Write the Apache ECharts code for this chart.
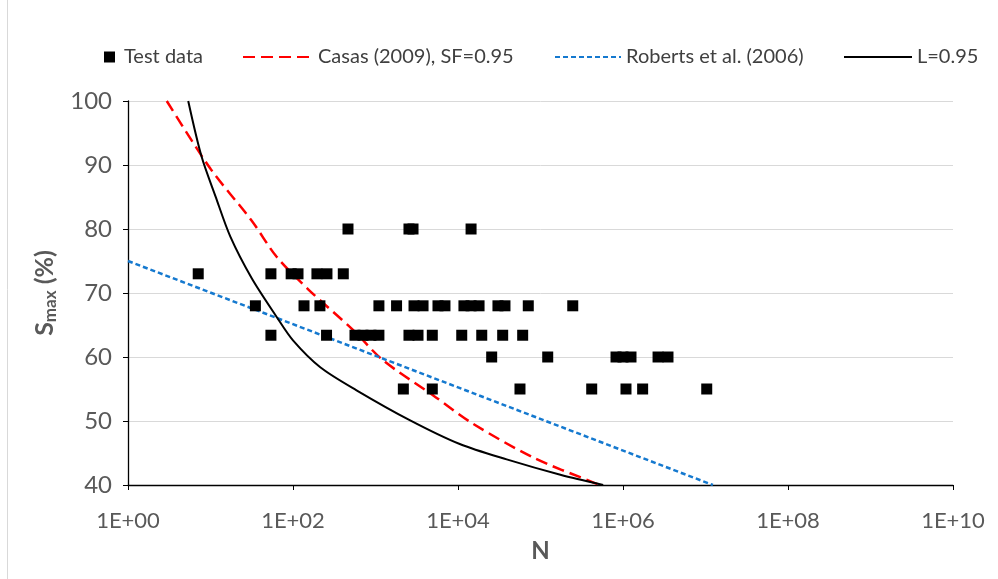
<!DOCTYPE html>
<html>
<head>
<meta charset="utf-8">
<script src="https://cdn.jsdelivr.net/npm/echarts@6/dist/echarts.min.js"></script>
<style>html,body{margin:0;padding:0;background:#fff}#c{width:998px;height:579px}</style>
</head>
<body>
<div id="c"></div>
<script>
// ---- data ----
const xTickLabels = ['1E+00','1E+02','1E+04','1E+06','1E+08','1E+10'];
const yTicks = [40,50,60,70,80,90,100];

const testN_80 = [464, 2545, 2850, 14400];
const testN_73 = [7.1, 54, 95, 115, 195, 258, 407];
const testN_68 = [35, 136, 212, 1100, 1800, 2930, 3770, 5720, 6950, 11800, 14400, 18000, 30500, 37100, 71100, 246000];
const testN_63 = [54, 255, 564, 705, 881, 1100, 2545, 3275, 4880, 11100, 19400, 34800, 60800];
const testN_60 = [25600, 122300, 823000, 1000000, 1250000, 2660000, 3510000];
const testN_55 = [2175, 4880, 56400, 417500, 1087000, 1730000, 10350000];
const testLevels = [80, 73, 68, 63.4, 60, 55];

const casasN = [2.95, 10, 31.6, 63, 155, 537, 1230, 5010, 15100, 81300, 398000, 525000];
const casasS = [100, 89.4, 81.3, 75.7, 70.5, 64.2, 59.5, 54, 49.6, 44.3, 40.6, 40];

const robertsN = [1, 12300000];
const robertsS = [75, 40];

const lN = [5.37, 7.76, 11.5, 17.4, 31.6, 63.1, 100, 214, 589, 2630, 10500, 38900, 174000, 575000];
const lS = [100, 91.4, 85.1, 78.8, 72.3, 66.3, 62.6, 58.4, 54.8, 50.1, 46.4, 44, 41.6, 40];

// ---- build ----
const testGroups = [testN_80, testN_73, testN_68, testN_63, testN_60, testN_55];
const testData = [];
testGroups.forEach((g, i) => g.forEach(n => testData.push([n, testLevels[i]])));
const zip = (a, b) => a.map((v, i) => [v, b[i]]);

const FONT = 'Lato';
const TXT = '#595959';
const LEG = '#404040';
const chart = echarts.init(document.getElementById('c'), null, {renderer: 'canvas'});

const legendBase = {
  orient: 'horizontal', top: 42, itemHeight: 14,
  textStyle: {fontFamily: FONT, fontSize: 20, color: LEG},
  itemStyle: {opacity: 0},
  selectedMode: false
};

chart.setOption({
  animation: false,
  backgroundColor: '#fff',
  textStyle: {fontFamily: FONT},
  grid: {left: 128, right: 45, top: 101, bottom: 94, containLabel: false},
  legend: [
    {orient: 'horizontal', top: 42, selectedMode: false,
      data: [{name: 'Test data', icon: 'rect'}], left: 99, itemWidth: 11, itemHeight: 11,
      itemStyle: {color: '#000'},
      textStyle: {fontFamily: FONT, fontSize: 20, color: LEG, padding: [0, 0, 0, 4]}},
    Object.assign({}, legendBase, {data: ['Casas (2009), SF=0.95'], left: 237, itemWidth: 70}),
    Object.assign({}, legendBase, {data: ['Roberts et al. (2006)'], left: 549, itemWidth: 66}),
    Object.assign({}, legendBase, {data: ['L=0.95'], left: 838, itemWidth: 68})
  ],
  xAxis: {
    type: 'log', logBase: 10, min: 1, max: 1e10, interval: 2,
    name: 'N', nameLocation: 'middle', nameGap: 54,
    nameTextStyle: {fontFamily: FONT, fontSize: 24, fontWeight: 'bold', color: TXT},
    axisLine: {show: true, onZero: false, lineStyle: {color: '#000', width: 1.3}},
    axisTick: {show: true, inside: false, length: 5, lineStyle: {color: '#000'}},
    axisLabel: {fontFamily: FONT, fontSize: 22, color: TXT, margin: 25,
      formatter: v => { const e = Math.round(Math.log10(v)); return xTickLabels[e / 2] || ''; }},
    splitLine: {show: false}, minorTick: {show: false}
  },
  yAxis: {
    type: 'value', min: 40, max: 100, interval: 10,
    name: '{s|S}{sub|max}{s| (%)}', nameLocation: 'middle', nameGap: 68, nameRotate: 90,
    nameTextStyle: {
      rich: {
        s: {fontFamily: FONT, fontSize: 25, fontWeight: 'bold', color: TXT},
        sub: {fontFamily: FONT, fontSize: 17, fontWeight: 'bold', color: TXT, padding: [12, 0, 0, 0]}
      }
    },
    axisLine: {show: true, lineStyle: {color: '#000', width: 1.3}},
    axisTick: {show: true, inside: false, length: 5, lineStyle: {color: '#000'}},
    axisLabel: {fontFamily: FONT, fontSize: 24, color: TXT, margin: 16,
      formatter: v => yTicks.includes(v) ? String(v) : ''},
    splitLine: {show: true, lineStyle: {color: '#d9d9d9', width: 1}}
  },
  series: [
    {name: 'Test data', type: 'scatter', data: testData, symbol: 'rect', symbolSize: 11,
      itemStyle: {color: '#000', opacity: 1}, z: 5},
    {name: 'Casas (2009), SF=0.95', type: 'line', data: zip(casasN, casasS), symbol: 'none', smooth: 0.3,
      lineStyle: {color: '#FF0000', width: 2.5, type: [12, 6]}, itemStyle: {color: '#FF0000'}, z: 3},
    {name: 'Roberts et al. (2006)', type: 'line', data: zip(robertsN, robertsS), symbol: 'none',
      lineStyle: {color: '#1579CF', width: 2.5, type: [5, 3]}, itemStyle: {color: '#1579CF'}, z: 3},
    {name: 'L=0.95', type: 'line', data: zip(lN, lS), symbol: 'none', smooth: 0.3,
      lineStyle: {color: '#000', width: 2}, itemStyle: {color: '#000'}, z: 4}
  ],
  graphic: [
    {type: 'line', shape: {x1: 7.5, y1: 0, x2: 7.5, y2: 579}, style: {stroke: '#d9d9d9', lineWidth: 1}, silent: true}
  ]
});
</script>
</body>
</html>
